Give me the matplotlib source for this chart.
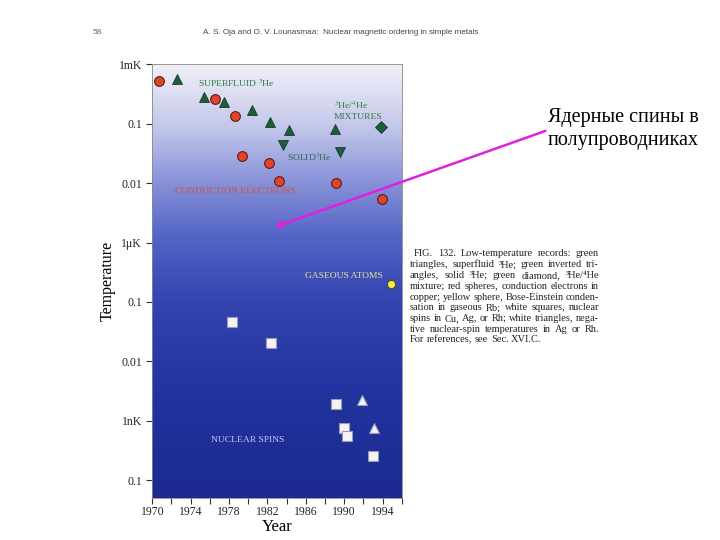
import numpy as np
import matplotlib
matplotlib.use("Agg")
import matplotlib.pyplot as plt
from matplotlib.colors import LinearSegmentedColormap
from matplotlib.ticker import NullLocator

plt.rcParams['font.family'] = ['Liberation Serif', 'DejaVu Serif']
plt.rcParams['mathtext.fontset'] = 'stix'

# ================================
# Data (year, temperature in K)
# ================================
electrons_year = [1970.7, 1976.5, 1978.6, 1979.3, 1982.2, 1983.2, 1989.1, 1993.9]
electrons_temp = [5.2e-4, 2.6e-4, 1.37e-4, 2.9e-5, 2.2e-5, 1.1e-5, 1.0e-5, 5.4e-6]

superfluid_year = [1972.6, 1975.4, 1977.45, 1980.4, 1982.3, 1984.25, 1989.0]
superfluid_temp = [5.6e-4, 2.86e-4, 2.35e-4, 1.73e-4, 1.08e-4, 7.7e-5, 8.1e-5]

solid_year = [1983.6, 1989.6]
solid_temp = [4.3e-5, 3.3e-5]

mixture_year = [1993.85]
mixture_temp = [8.7e-5]

gas_year = [1994.9]
gas_temp = [1.98e-7]

spins_year = [1978.3, 1982.4, 1989.1, 1990.0, 1990.3, 1993.05]
spins_temp = [4.6e-8, 2.0e-8, 1.94e-9, 7.5e-10, 5.5e-10, 2.6e-10]

negative_year = [1991.9, 1993.1]
negative_temp = [2.26e-9, 7.7e-10]

ytick_vals = [1e-3, 1e-4, 1e-5, 1e-6, 1e-7, 1e-8, 1e-9, 1e-10]
ytick_labels = ["1mK", "0.1", "0.01", "1\u03bcK", "0.1", "0.01", "1nK", "0.1"]
xtick_vals = [1970, 1974, 1978, 1982, 1986, 1990, 1994]

caption_lines = [
    "FIG. 132. Low-temperature records: green",
    "triangles, superfluid \u00b3He; green inverted tri-",
    "angles, solid \u00b3He; green diamond, \u00b3He/\u2074He",
    "mixture; red spheres, conduction electrons in",
    "copper; yellow sphere, Bose-Einstein conden-",
    "sation in gaseous Rb; white squares, nuclear",
    "spins in Cu, Ag, or Rh; white triangles, nega-",
    "tive nuclear-spin temperatures in Ag or Rh.",
    "For references, see Sec. XVI.C.",
]

# ================================
# Figure and gradient background
# ================================
fig = plt.figure(figsize=(7.2, 5.4), dpi=100)
W, H = 720, 540
pos = [152.3 / W, 1 - 498 / H, (401.7 - 152.3) / W, (498 - 64.3) / H]

bg = fig.add_axes(pos)
cmap = LinearSegmentedColormap.from_list("bg", [
    (0.0, "#f0f0f7"), (0.14, "#c4c8ea"), (0.27, "#8892d8"),
    (0.40, "#5363c6"), (0.55, "#3343b0"), (0.75, "#2334a0"), (1.0, "#1c2a90")])
bg.imshow(np.linspace(0, 1, 300).reshape(-1, 1), aspect='auto', cmap=cmap,
          extent=[0, 1, 0, 1])
bg.axis('off')

ax = fig.add_axes(pos)
ax.set_facecolor('none')
ax.set_yscale('log')
ax.set_xlim(1970, 1996)
ax.set_ylim(10 ** -10.3, 1e-3)

# ================================
# Markers
# ================================
ax.plot(electrons_year, electrons_temp, 'o', ms=7, mfc='#e0452b', mec='#5a1a10', mew=0.8)
ax.plot(superfluid_year, superfluid_temp, '^', ms=7.5, mfc='#1e5c3c', mec='#143d28', mew=0.6)
ax.plot(solid_year, solid_temp, 'v', ms=7.5, mfc='#1e5c3c', mec='#143d28', mew=0.6)
ax.plot(mixture_year, mixture_temp, 'D', ms=6, mfc='#1e5c3c', mec='#143d28', mew=0.6)
ax.plot(gas_year, gas_temp, 'o', ms=6, mfc='#f2f230', mec='#444444', mew=0.8, clip_on=False)
ax.plot(spins_year, spins_temp, 's', ms=6.5, mfc='#f4f4f4', mec='#9a9ab8', mew=0.8)
ax.plot(negative_year, negative_temp, '^', ms=7, mfc='#f4f4f4', mec='#9a9ab8', mew=0.8)

# ================================
# In-plot labels
# ================================
ax.text(1974.77, 4.7e-4, "SUPERFLUID $^{3}$He", color='#2e7a4a', fontsize=6.8, va='center')
ax.text(1988.94, 1.7e-4, "$^{3}$He/$^{4}$He\nMIXTURES", color='#2e7a4a', fontsize=6.8,
        va='center', linespacing=1.3)
ax.text(1984.04, 2.75e-5, "SOLID$^{3}$He", color='#2e6a5a', fontsize=6.8, va='center')
ax.text(1972.37, 7.4e-6, "CONDUCTION ELECTRONS", color='#d8503a', fontsize=6.8, va='center')
ax.text(1985.9, 2.75e-7, "GASEOUS ATOMS", color='#e8dc98', fontsize=6.8, va='center')
ax.text(1976.12, 4.7e-10, "NUCLEAR SPINS", color='#c8c8f2', fontsize=6.8, va='center')

# ================================
# Axes styling
# ================================
ax.set_yticks(ytick_vals)
ax.set_yticklabels(ytick_labels)
ax.yaxis.set_minor_locator(NullLocator())
ax.set_xticks(xtick_vals)
ax.set_xticks(range(1970, 1997, 2), minor=True)
ax.tick_params(axis='both', which='both', direction='out', length=4, width=0.8,
               color='#333333', labelsize=8.5, labelcolor='#222222')
ax.tick_params(axis='x', which='both', pad=1.5)
for s in ax.spines.values():
    s.set_color('#888888')
    s.set_linewidth(0.6)
ax.set_ylabel("Temperature", fontsize=11.5, labelpad=2)
ax.set_xlabel("Year", fontsize=12, labelpad=1)

# ================================
# Page header
# ================================
fig.text(93 / W, 1 - 33 / H, "58", fontsize=6, color='#666666',
         family='Liberation Sans', va='center')
fig.text(203 / W, 1 - 33 / H,
         "A. S. Oja and O. V. Lounasmaa:  Nuclear magnetic ordering in simple metals",
         fontsize=5.9, color='#444444', family='Liberation Sans', va='center')

# ================================
# Justified caption
# ================================
fig.canvas.draw()
r = fig.canvas.get_renderer()
cap_left, cap_right = 410, 599
for i, line in enumerate(caption_lines):
    yb = 1 - (256.5 + 10.75 * i) / H
    words = line.split(" ")
    texts = [fig.text(0, yb, w_, fontsize=7.5, color='#222222', va='baseline') for w_ in words]
    widths = [t.get_window_extent(r).width for t in texts]
    x0 = cap_left + (4 if i == 0 else 0)
    if i < len(caption_lines) - 1 and len(words) > 1:
        gap = (cap_right - x0 - sum(widths)) / (len(words) - 1)
    else:
        gap = 2.6
    x = x0
    for t, wd in zip(texts, widths):
        t.set_x(x / W)
        x += wd + gap

# ================================
# Annotation (arrow + Russian text)
# ================================
ax.annotate("", xy=(272 / W, 1 - 228 / H), xytext=(548 / W, 1 - 130 / H),
            xycoords='figure fraction', textcoords='figure fraction',
            arrowprops=dict(arrowstyle='-|>', color='#e020e0', lw=1.8, mutation_scale=10),
            annotation_clip=False)
fig.text(548 / W, 1 - 129 / H, "Ядерные спины в\nполупроводниках", fontsize=14.5,
         color='black', va='center', ha='left', linespacing=1.25)

fig.savefig("out.png", dpi=100)
